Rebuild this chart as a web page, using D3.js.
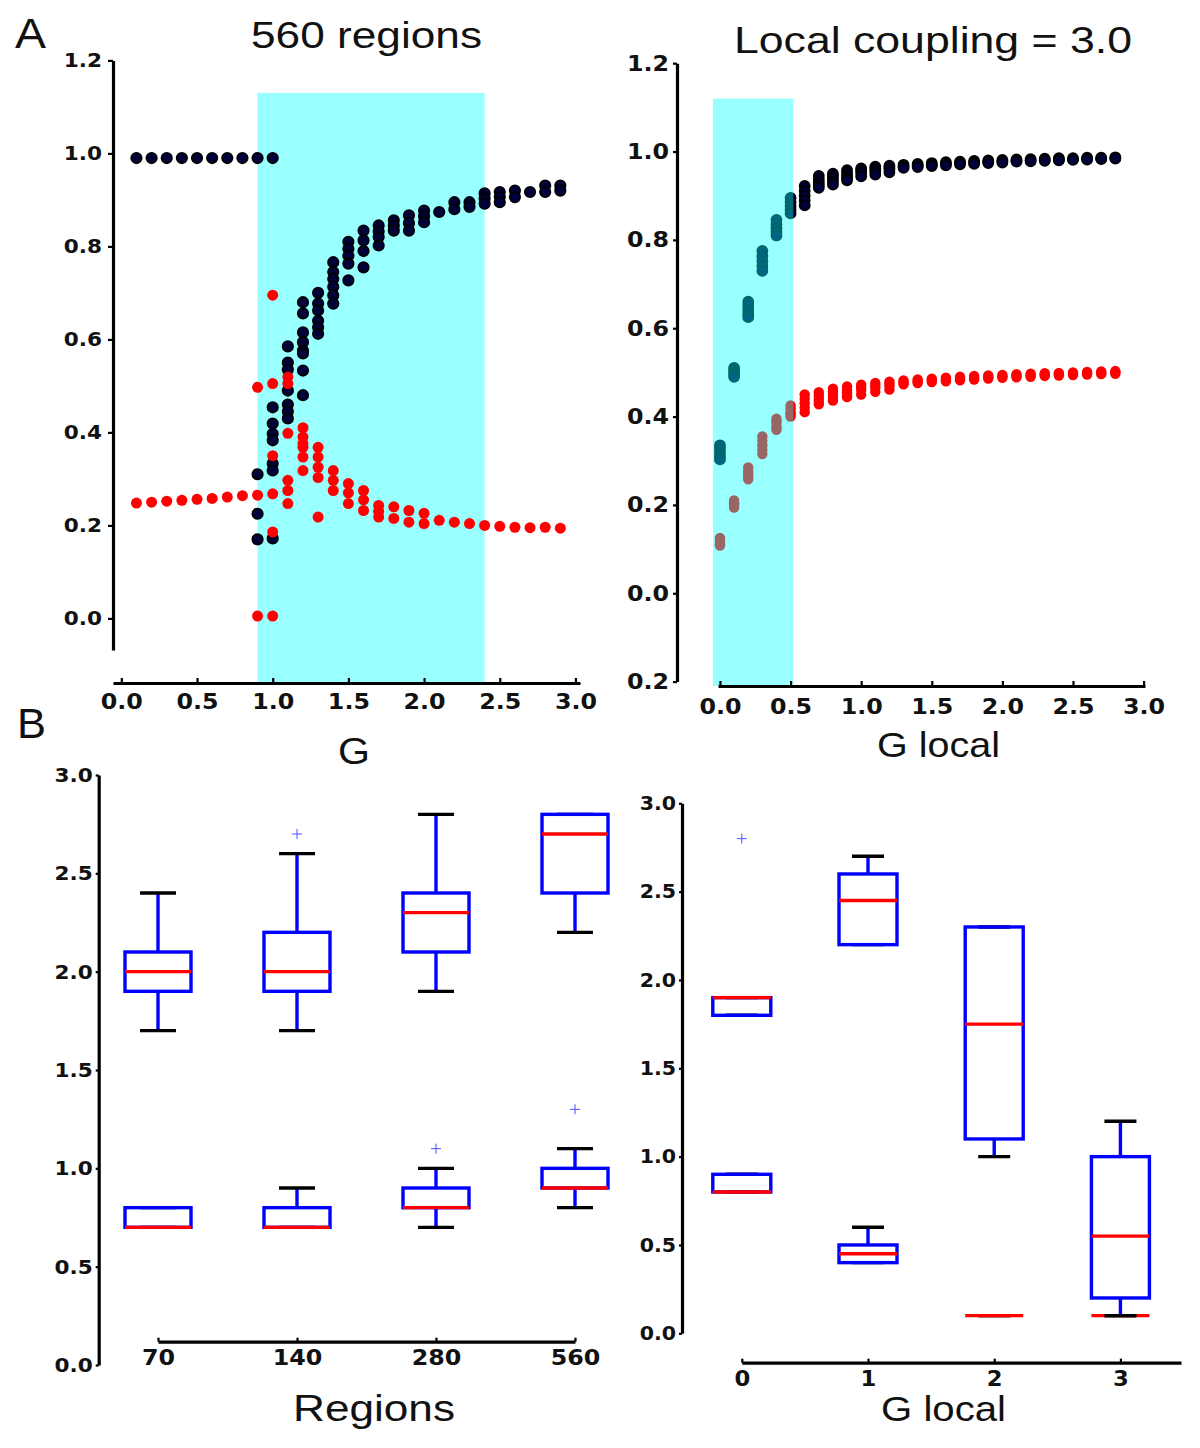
<!DOCTYPE html>
<html>
<head>
<meta charset="utf-8">
<script src="https://cdn.jsdelivr.net/npm/d3@7"></script>
<style>
  body { margin: 0; background: #fff; }
  svg text { font-family: "Liberation Sans", Arial, sans-serif; fill: #111; }
  .tick text { font-family: "DejaVu Sans", sans-serif; font-weight: bold; }
</style>
</head>
<body>
<div id="chart"></div>
<script>
// ---- panel A left: order parameter vs G (560 regions) ----
var gGlobal = [0.1, 0.2, 0.3, 0.4, 0.5, 0.6, 0.7, 0.8, 0.9, 1.0,
               1.1, 1.2, 1.3, 1.4, 1.5, 1.6, 1.7, 1.8, 1.9, 2.0,
               2.1, 2.2, 2.3, 2.4, 2.5, 2.6, 2.7, 2.8, 2.9];
var highGlobal = [[0.99], [0.99], [0.99], [0.99], [0.99], [0.99], [0.99], [0.99],
                  [0.99, 0.31, 0.225, 0.17],
                  [0.99, 0.454, 0.419, 0.397, 0.383, 0.333, 0.318, 0.172],
                  [0.585, 0.55, 0.535, 0.49, 0.46, 0.445, 0.43],
                  [0.68, 0.656, 0.615, 0.594, 0.576, 0.57, 0.533, 0.48],
                  [0.70, 0.677, 0.662, 0.64, 0.626, 0.612],
                  [0.766, 0.745, 0.73, 0.713, 0.695, 0.677],
                  [0.81, 0.795, 0.78, 0.763, 0.727],
                  [0.834, 0.813, 0.79, 0.755],
                  [0.845, 0.832, 0.82, 0.802],
                  [0.856, 0.845, 0.834],
                  [0.867, 0.85, 0.834],
                  [0.877, 0.865, 0.852],
                  [0.874],
                  [0.895, 0.88],
                  [0.895, 0.885],
                  [0.914, 0.903, 0.892],
                  [0.917, 0.906, 0.895],
                  [0.92, 0.906],
                  [0.917],
                  [0.931, 0.917],
                  [0.931, 0.92]];
var lowGlobal = [[0.248], [0.25], [0.252], [0.254], [0.256], [0.258], [0.261], [0.264],
                 [0.497, 0.265, 0.005],
                 [0.695, 0.505, 0.35, 0.268, 0.186, 0.005],
                 [0.519, 0.505, 0.398, 0.297, 0.275, 0.247],
                 [0.41, 0.39, 0.376, 0.368, 0.347, 0.318],
                 [0.368, 0.347, 0.325, 0.303, 0.218],
                 [0.318, 0.297, 0.275],
                 [0.29, 0.27, 0.247],
                 [0.275, 0.255, 0.232],
                 [0.243, 0.23, 0.218],
                 [0.24, 0.215],
                 [0.232, 0.207],
                 [0.226, 0.204],
                 [0.211], [0.207], [0.204], [0.2], [0.198], [0.196], [0.195], [0.196], [0.194]];
var spanGlobal = [0.9, 2.4];

// ---- panel A right: order parameter vs G local ----
var gLocal = [0.0, 0.1, 0.2, 0.3, 0.4, 0.5, 0.6, 0.7, 0.8, 0.9,
              1.0, 1.1, 1.2, 1.3, 1.4, 1.5, 1.6, 1.7, 1.8, 1.9,
              2.0, 2.1, 2.2, 2.3, 2.4, 2.5, 2.6, 2.7, 2.8];
var highLocal = [[0.335, 0.327, 0.318, 0.31, 0.303], [0.51, 0.503, 0.497, 0.49],
                 [0.66, 0.651, 0.642, 0.633, 0.625], [0.775, 0.763, 0.752, 0.741, 0.73],
                 [0.845, 0.835, 0.826, 0.818, 0.81], [0.895, 0.885, 0.876, 0.868, 0.86],
                 [0.922, 0.911, 0.9, 0.889, 0.878], [0.945, 0.937, 0.93, 0.924, 0.918],
                 [0.95, 0.944, 0.938, 0.931, 0.925], [0.958, 0.952, 0.946, 0.94, 0.935],
                 [0.962, 0.957, 0.952, 0.944], [0.966, 0.961, 0.956, 0.948],
                 [0.968, 0.964, 0.96, 0.953], [0.97, 0.966, 0.963], [0.972, 0.968, 0.965],
                 [0.974, 0.97, 0.967], [0.976, 0.972, 0.969], [0.977, 0.974, 0.971],
                 [0.979, 0.975, 0.972], [0.98, 0.977, 0.974], [0.981, 0.978, 0.975],
                 [0.982, 0.979, 0.977], [0.983, 0.98, 0.978], [0.984, 0.981, 0.979],
                 [0.985, 0.982, 0.98], [0.985, 0.983, 0.981], [0.986, 0.984, 0.982],
                 [0.986, 0.984, 0.983], [0.987, 0.985, 0.984]];
var lowLocal = [[0.125, 0.12, 0.115, 0.111, 0.108], [0.21, 0.204, 0.2, 0.194],
                [0.285, 0.277, 0.27, 0.264, 0.258], [0.355, 0.345, 0.335, 0.325, 0.315],
                [0.395, 0.389, 0.383, 0.376, 0.37], [0.425, 0.418, 0.41, 0.405, 0.4],
                [0.45, 0.44, 0.43, 0.42, 0.41], [0.455, 0.447, 0.44, 0.434, 0.428],
                [0.463, 0.456, 0.449, 0.442, 0.436], [0.468, 0.461, 0.455, 0.449, 0.444],
                [0.472, 0.466, 0.46, 0.45], [0.476, 0.47, 0.465, 0.456],
                [0.479, 0.474, 0.469, 0.461], [0.482, 0.477, 0.473], [0.484, 0.48, 0.476],
                [0.486, 0.482, 0.478], [0.488, 0.484, 0.48], [0.49, 0.486, 0.482],
                [0.492, 0.488, 0.484], [0.493, 0.489, 0.486], [0.494, 0.491, 0.488],
                [0.496, 0.492, 0.489], [0.497, 0.493, 0.49], [0.498, 0.495, 0.492],
                [0.499, 0.496, 0.493], [0.5, 0.497, 0.494], [0.501, 0.498, 0.495],
                [0.502, 0.499, 0.496], [0.503, 0.5, 0.497]];
var spanLocal = [-0.05, 0.52];

// ---- panel B: box stats [whisker low, q1, median, q3, whisker high] ----
var regionLabels = ["70", "140", "280", "560"];
var regionsHigh = [[1.7, 1.9, 2.0, 2.1, 2.4], [1.7, 1.9, 2.0, 2.2, 2.6],
                   [1.9, 2.1, 2.3, 2.4, 2.8], [2.2, 2.4, 2.7, 2.8, 2.8]];
var regionsHighFliers = [[], [2.7], [], []];
var regionsLow = [[0.7, 0.7, 0.7, 0.8, 0.8], [0.7, 0.7, 0.7, 0.8, 0.9],
                  [0.7, 0.8, 0.8, 0.9, 1.0], [0.8, 0.9, 0.9, 1.0, 1.1]];
var regionsLowFliers = [[], [], [1.1], [1.3]];

var glocalLabels = ["0", "1", "2", "3"];
var glocalHigh = [[1.8, 1.8, 1.9, 1.9, 1.9], [2.2, 2.2, 2.45, 2.6, 2.7],
                  [1.0, 1.1, 1.75, 2.3, 2.3], [0.1, 0.2, 0.55, 1.0, 1.2]];
var glocalHighFliers = [[2.8], [], [], []];
var glocalLow = [[0.8, 0.8, 0.8, 0.9, 0.9], [0.4, 0.4, 0.45, 0.5, 0.6],
                 [0.1, 0.1, 0.1, 0.1, 0.1], [0.1, 0.1, 0.1, 0.1, 0.1]];
var glocalLowFliers = [[], [], [], []];

var width = 1200, height = 1448;
var svg = d3.select("#chart").append("svg")
            .attr("width", width)
            .attr("height", height);

function fmt(d) { return Math.abs(d).toFixed(1); }

function styleAxis(g, fs) {
    g.select(".domain").attr("stroke", "#000").attr("stroke-width", 3.2);
    g.selectAll(".tick line").attr("stroke", "#000").attr("stroke-width", 2.2);
    g.selectAll(".tick text").style("font-size", fs + "px");
}

// stretch text horizontally (the figure text is wide)
function widen(sel, k) {
    sel.each(function() {
        var w = this.getComputedTextLength();
        d3.select(this).attr("textLength", w * k).attr("lengthAdjust", "spacingAndGlyphs");
    });
}

function columns(xs, cols) {
    var out = [];
    xs.forEach((x, i) => cols[i].forEach(v => out.push([x, v])));
    return out;
}

// ================= A left =================
var xL = d3.scaleLinear().domain([-0.055, 3.03]).range([113, 580]);
var yL = d3.scaleLinear().domain([-0.068, 1.2]).range([650, 60.4]);

svg.append("rect")
    .attr("x", xL(spanGlobal[0]))
    .attr("width", xL(spanGlobal[1]) - xL(spanGlobal[0]))
    .attr("y", yL(1.13))
    .attr("height", 683 - yL(1.13))
    .attr("fill", "#99ffff");

var gl = svg.append("g");
gl.selectAll(".hi").data(columns(gGlobal, highGlobal)).enter()
    .append("circle")
    .attr("cx", d => xL(d[0])).attr("cy", d => yL(d[1])).attr("r", 5.2)
    .attr("fill", "#00003a").attr("stroke", "#000").attr("stroke-width", 1.8);
gl.selectAll(".lo").data(columns(gGlobal, lowGlobal)).enter()
    .append("circle")
    .attr("cx", d => xL(d[0])).attr("cy", d => yL(d[1])).attr("r", 5.5)
    .attr("fill", "#ff0000");

var axYL = svg.append("g").attr("transform", "translate(113,0)")
    .call(d3.axisLeft(yL).tickValues([0, 0.2, 0.4, 0.6, 0.8, 1.0, 1.2]).tickFormat(fmt)
            .tickSize(5).tickSizeOuter(0).tickPadding(6));
styleAxis(axYL, 20);
var axXL = svg.append("g").attr("transform", "translate(0,683)")
    .call(d3.axisBottom(xL).tickValues([0, 0.5, 1, 1.5, 2, 2.5, 3]).tickFormat(fmt)
            .tickSize(-5).tickSizeOuter(0).tickPadding(10));
styleAxis(axXL, 22);

// ================= A right =================
var xR = d3.scaleLinear().domain([-0.014, 3.01]).range([718, 1145]);
var yR = d3.scaleLinear().domain([-0.2, 1.2]).range([681.6, 63.2]);

var gr = svg.append("g");
gr.selectAll(".hi").data(columns(gLocal, highLocal)).enter()
    .append("circle")
    .attr("cx", d => xR(d[0])).attr("cy", d => yR(d[1])).attr("r", 5)
    .attr("fill", "#00003a").attr("stroke", "#000").attr("stroke-width", 1.8);
gr.selectAll(".lo").data(columns(gLocal, lowLocal)).enter()
    .append("circle")
    .attr("cx", d => xR(d[0])).attr("cy", d => yR(d[1])).attr("r", 5.2)
    .attr("fill", "#ff0000");

svg.append("rect")
    .attr("x", xR(spanLocal[0]))
    .attr("width", xR(spanLocal[1]) - xR(spanLocal[0]))
    .attr("y", yR(1.12))
    .attr("height", 686 - yR(1.12))
    .attr("fill", "#00ffff").attr("opacity", 0.4);

var axYR = svg.append("g").attr("transform", "translate(677,0)")
    .call(d3.axisLeft(yR).tickValues([-0.2, 0, 0.2, 0.4, 0.6, 0.8, 1.0, 1.2]).tickFormat(fmt)
            .tickSize(4).tickSizeOuter(0).tickPadding(4));
styleAxis(axYR, 22);
var axXR = svg.append("g").attr("transform", "translate(0,686)")
    .call(d3.axisBottom(xR).tickValues([0, 0.5, 1, 1.5, 2, 2.5, 3]).tickFormat(fmt)
            .tickSize(-5).tickSizeOuter(0).tickPadding(12));
styleAxis(axXR, 22);

// ================= boxes =================
function drawBoxes(g, xs, y, stats, fliers, halfW, capW) {
    var sw = 3.4;
    stats.forEach((s, i) => {
        var cx = xs(i), lo = s[0], q1 = s[1], med = s[2], q3 = s[3], hi = s[4];
        g.append("line").attr("x1", cx).attr("x2", cx).attr("y1", y(q1)).attr("y2", y(lo))
            .attr("stroke", "#0000ff").attr("stroke-width", sw);
        g.append("line").attr("x1", cx).attr("x2", cx).attr("y1", y(q3)).attr("y2", y(hi))
            .attr("stroke", "#0000ff").attr("stroke-width", sw);
        [lo, hi].forEach(v => g.append("line")
            .attr("x1", cx - capW).attr("x2", cx + capW).attr("y1", y(v)).attr("y2", y(v))
            .attr("stroke", "#000").attr("stroke-width", sw));
        g.append("rect").attr("x", cx - halfW).attr("width", 2 * halfW)
            .attr("y", y(q3)).attr("height", y(q1) - y(q3))
            .attr("fill", "none").attr("stroke", "#0000ff").attr("stroke-width", sw);
        g.append("line").attr("x1", cx - halfW).attr("x2", cx + halfW).attr("y1", y(med)).attr("y2", y(med))
            .attr("stroke", "#ff0000").attr("stroke-width", sw);
        fliers[i].forEach(v => g.append("path")
            .attr("d", "M" + (cx - 5) + "," + y(v) + "H" + (cx + 5) + "M" + cx + "," + (y(v) - 5) + "V" + (y(v) + 5))
            .attr("stroke", "#4f4fff").attr("stroke-width", 1).attr("fill", "none"));
    });
}

// B left
var xB1 = d3.scaleLinear().domain([1, 4]).range([158, 575]);
var yB1 = d3.scaleLinear().domain([0, 3]).range([1365, 775]);
var b1 = svg.append("g");
var posB1 = i => xB1(i + 1);
drawBoxes(b1, posB1, yB1, regionsLow, regionsLowFliers, 33, 18);
drawBoxes(b1, posB1, yB1, regionsHigh, regionsHighFliers, 33, 18);

var axYB1 = svg.append("g").attr("transform", "translate(98.7,0)")
    .call(d3.axisLeft(yB1).tickValues([0, 0.5, 1, 1.5, 2, 2.5, 3]).tickFormat(fmt)
            .tickSize(3).tickSizeOuter(0).tickPadding(3));
styleAxis(axYB1, 20);
var axXB1 = svg.append("g").attr("transform", "translate(0,1341.7)")
    .call(d3.axisBottom(xB1).tickValues([1, 2, 3, 4]).tickFormat((d, i) => regionLabels[i])
            .tickSize(-4).tickSizeOuter(0).tickPadding(8));
styleAxis(axXB1, 22);

// B right
var xB2 = d3.scaleLinear().domain([0, 3.48]).range([741.8, 1181]);
var yB2 = d3.scaleLinear().domain([0, 3]).range([1333.3, 803.3]);
var b2 = svg.append("g");
var posB2 = i => xB2(i);
drawBoxes(b2, posB2, yB2, glocalLow, glocalLowFliers, 29, 16);
drawBoxes(b2, posB2, yB2, glocalHigh, glocalHighFliers, 29, 16);

var axYB2 = svg.append("g").attr("transform", "translate(682,0)")
    .call(d3.axisLeft(yB2).tickValues([0, 0.5, 1, 1.5, 2, 2.5, 3]).tickFormat(fmt)
            .tickSize(3).tickSizeOuter(0).tickPadding(3));
styleAxis(axYB2, 19);
var axXB2 = svg.append("g").attr("transform", "translate(0,1362.7)")
    .call(d3.axisBottom(xB2).tickValues([0, 1, 2, 3]).tickFormat((d, i) => glocalLabels[i])
            .tickSize(-4).tickSizeOuter(0).tickPadding(8));
styleAxis(axXB2, 21);

svg.selectAll(".tick text").call(widen, 1.08);

// ================= titles and labels =================
var labels = [
    {t: "A", x: 15, y: 48, s: 42, w: 31},
    {t: "560 regions", x: 251, y: 48, s: 36, w: 231},
    {t: "Local coupling = 3.0", x: 734, y: 53, s: 36, w: 398},
    {t: "G", x: 338, y: 764, s: 36, w: 32},
    {t: "G local", x: 877, y: 757, s: 35, w: 123},
    {t: "B", x: 17, y: 738, s: 42, w: 29},
    {t: "Regions", x: 293, y: 1421, s: 37, w: 162},
    {t: "G local", x: 881, y: 1421, s: 35, w: 125}
];
svg.selectAll(".lab").data(labels).enter()
    .append("text")
    .attr("x", d => d.x).attr("y", d => d.y)
    .attr("textLength", d => d.w).attr("lengthAdjust", "spacingAndGlyphs")
    .style("font-size", d => d.s + "px")
    .text(d => d.t);
</script>
</body>
</html>
